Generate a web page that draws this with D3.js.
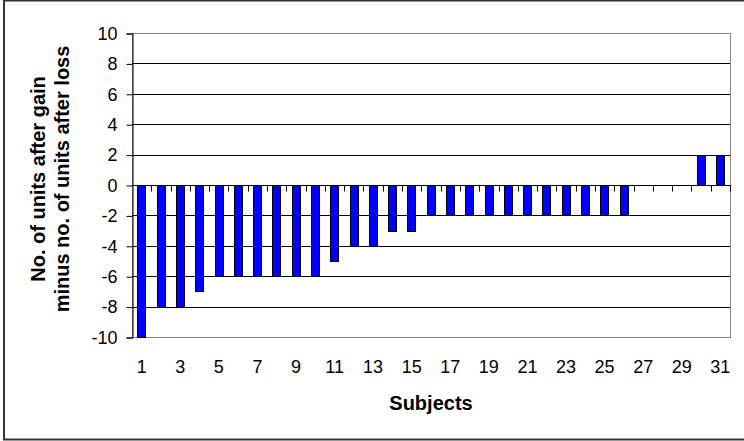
<!DOCTYPE html>
<html lang="en">
  <head>
    <meta charset="UTF-8" />
    <title>Subjects</title>
    <script src="https://d3js.org/d3.v7.min.js"></script>
    <style>
      body { margin: 0; background: #fff; }
      text { font-family: "Liberation Sans", Arial, sans-serif; fill: #000; }
    </style>
  </head>
  <body>
    <script>
      // subjects 1..31
      var subjects = d3.range(1, 32);
      // gain minus loss
      var diffs = [
        -10, -8, -8, -7, -6, -6, -6, -6, -6, -6, -5, -4, -4, -3, -3,
        -2, -2, -2, -2, -2, -2, -2, -2, -2, -2, -2, 0, 0, 0, 2, 2
      ];
      var yTicks = [-10, -8, -6, -4, -2, 0, 2, 4, 6, 8, 10];
      var xLabels = subjects.filter(function (d) { return d % 2 == 1; });

      function dibujar() {
        var w = 744, h = 441;
        var mLeft = 132, mRight = 730, mTop = 33, mBottom = 337;

        var svg = d3.select("body").append("svg")
          .attr("width", w)
          .attr("height", h);

        // outer frame
        svg.append("rect")
          .attr("x", 4).attr("y", 0.5)
          .attr("width", 744).attr("height", 439)
          .attr("fill", "none")
          .attr("stroke", "#333")
          .attr("stroke-width", 2);

        var x = d3.scaleBand()
          .domain(subjects)
          .range([mLeft, mRight])
          .paddingInner(0.56)
          .paddingOuter(0.28);

        var y = d3.scaleLinear().domain([-10, 10]).range([mBottom, mTop]);

        // plot frame (gray)
        svg.append("rect")
          .attr("x", mLeft + 0.5).attr("y", mTop + 0.5)
          .attr("width", mRight - mLeft).attr("height", mBottom - mTop)
          .attr("fill", "none")
          .attr("stroke", "#888");

        // grid lines
        svg.append("g")
          .selectAll("line")
          .data(yTicks.filter(function (d) { return d != 10 && d != -10 && d != 0; }))
          .enter()
          .append("line")
          .attr("x1", mLeft).attr("x2", mRight)
          .attr("y1", function (d) { return Math.round(y(d)) + 0.5; })
          .attr("y2", function (d) { return Math.round(y(d)) + 0.5; })
          .attr("stroke", "#000");

        // bars
        svg.append("g")
          .selectAll("rect")
          .data(diffs)
          .enter()
          .append("rect")
          .attr("x", function (d, i) { return Math.round(x(subjects[i])) + 0.5; })
          .attr("width", Math.round(x.bandwidth()))
          .attr("y", function (d) { return Math.round(y(Math.max(0, d))) + 0.5; })
          .attr("height", function (d) { return Math.round(Math.abs(y(d) - y(0))); })
          .attr("fill", "#0000ff")
          .attr("stroke", "#000")
          .style("display", function (d) { return d == 0 ? "none" : null; });

        // y axis
        var yAxis = d3.axisLeft(y)
          .tickValues(yTicks)
          .tickSize(6)
          .tickPadding(9)
          .tickFormat(d3.format(""));
        var gy = svg.append("g")
          .attr("transform", "translate(" + (mLeft + 0.5) + ",0.5)")
          .call(yAxis);
        gy.select(".domain").attr("stroke", "#000");
        gy.selectAll("line").attr("stroke", "#000");
        gy.selectAll("text").style("font-size", "18px")
          .text(function (d) { return d < 0 ? "-" + Math.abs(d) : d; });

        // zero line with ticks between subjects
        var z = Math.round(y(0)) + 0.5;
        svg.append("line")
          .attr("x1", mLeft).attr("x2", mRight + 1)
          .attr("y1", z).attr("y2", z)
          .attr("stroke", "#000");
        svg.append("g")
          .selectAll("line")
          .data(subjects)
          .enter()
          .append("line")
          .attr("x1", function (d) { return Math.round(x(d) + x.bandwidth() + x.step() * x.paddingInner() / 2) + 0.5; })
          .attr("x2", function (d) { return Math.round(x(d) + x.bandwidth() + x.step() * x.paddingInner() / 2) + 0.5; })
          .attr("y1", z).attr("y2", z + 6)
          .attr("stroke", "#000");

        // x labels
        svg.append("g")
          .selectAll("text")
          .data(xLabels)
          .enter()
          .append("text")
          .attr("x", function (d) { return x(d) + x.bandwidth() / 2; })
          .attr("y", 373)
          .attr("text-anchor", "middle")
          .style("font-size", "18px")
          .text(function (d) { return d; });

        svg.append("text")
          .attr("x", 431).attr("y", 410)
          .attr("text-anchor", "middle")
          .style("font-size", "20px")
          .style("font-weight", "bold")
          .text("Subjects");

        var yt = svg.append("text")
          .attr("transform", "translate(0,179) rotate(-90)")
          .attr("text-anchor", "middle")
          .style("font-size", "20px")
          .style("font-weight", "bold");
        yt.append("tspan").attr("x", 0).attr("y", 45).text("No.  of units after gain");
        yt.append("tspan").attr("x", 0).attr("y", 69).text("minus no. of units after loss");
      }

      dibujar();
    </script>
  </body>
</html>
